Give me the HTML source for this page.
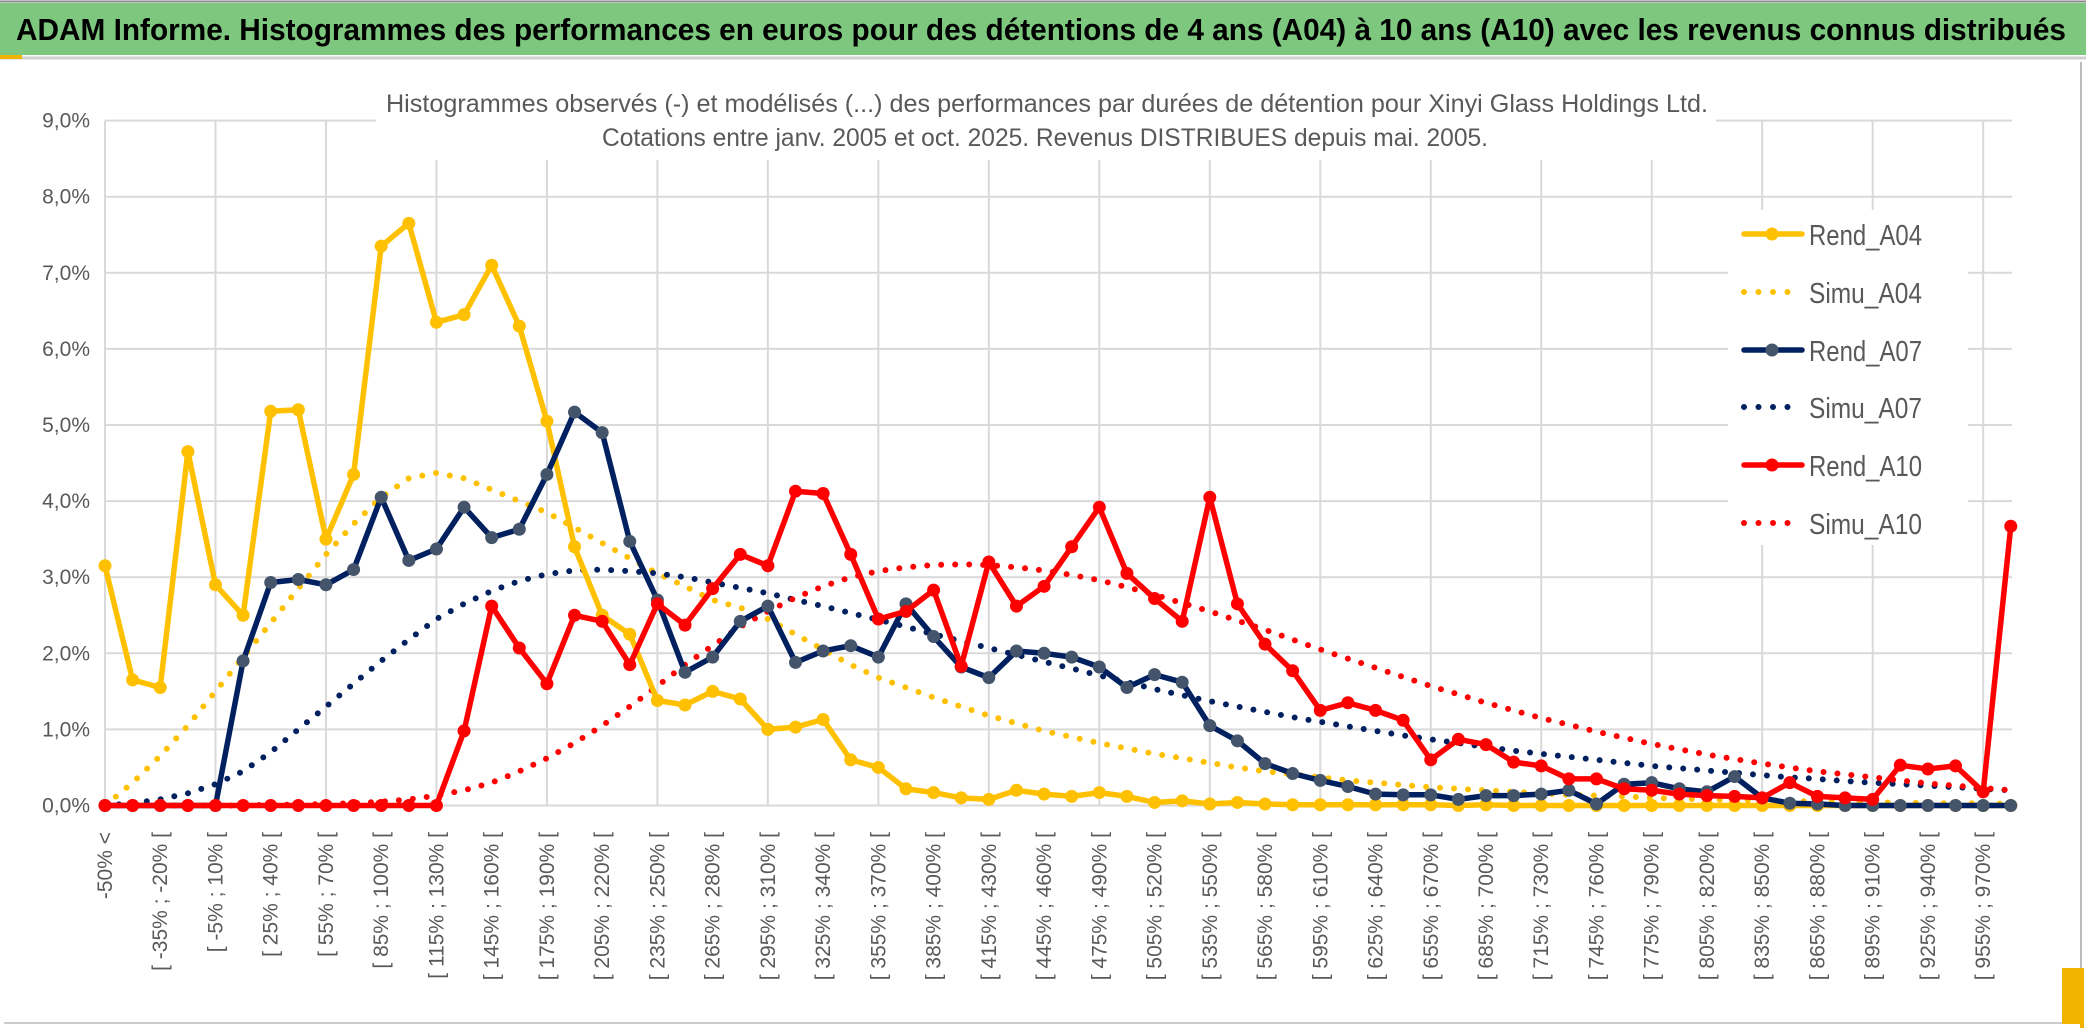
<!DOCTYPE html>
<html><head><meta charset="utf-8"><style>
html,body{margin:0;padding:0;background:#fff;}
svg{display:block;font-family:"Liberation Sans",sans-serif;}
</style></head><body>
<svg id="chart" width="2086" height="1033" viewBox="0 0 2086 1033" xmlns="http://www.w3.org/2000/svg">
<rect x="0" y="0" width="2086" height="1033" fill="#fff"/>
<rect x="0" y="3" width="2086" height="52" fill="#7DC87E"/>
<line x1="0" y1="1.5" x2="2086" y2="1.5" stroke="#888" stroke-width="2"/>
<line x1="0" y1="58" x2="2086" y2="58" stroke="#d0d0d0" stroke-width="3"/>
<rect x="0" y="55" width="22" height="4" fill="#F0B400"/>
<text x="16" y="40" font-size="31" font-weight="bold" fill="#000" textLength="2050" lengthAdjust="spacingAndGlyphs">ADAM Informe. Histogrammes des performances en euros pour des détentions de 4 ans (A04) à 10 ans (A10) avec les revenus connus distribués</text>
<rect x="2080" y="62" width="2" height="962" fill="#bbb"/>
<rect x="4" y="1022" width="2078" height="2" fill="#ccc"/>
<rect x="2062" y="968" width="20" height="56" fill="#F0B400"/>
<rect x="2080" y="968" width="4" height="60" fill="#F0B400"/>
<g id="grid"></g>
<rect x="376" y="80" width="1340" height="80" fill="#fff"/>
<text x="1047" y="112" text-anchor="middle" font-size="25" fill="#595959" textLength="1322" lengthAdjust="spacingAndGlyphs">Histogrammes observés (-) et modélisés (...) des performances par durées de détention pour Xinyi Glass Holdings Ltd.</text>
<text x="1045" y="146" text-anchor="middle" font-size="25" fill="#595959" textLength="886" lengthAdjust="spacingAndGlyphs">Cotations entre janv. 2005 et oct. 2025. Revenus DISTRIBUES depuis mai. 2005.</text>
<g id="yticks"></g>
<g id="xticks"></g>
<g id="series"></g>
<g id="legend"></g>
</svg>
<script>
const yTicks=["0,0%","1,0%","2,0%","3,0%","4,0%","5,0%","6,0%","7,0%","8,0%","9,0%"];
const yTickValues=[0,1,2,3,4,5,6,7,8,9];
const lowerBounds=[];
for(let i=1;i<70;i++){lowerBounds.push(-50+15*(i-1));}
const rendA04=[3.15,1.65,1.55,4.65,2.9,2.5,5.18,5.2,3.5,4.35,7.35,7.65,6.35,6.45,7.1,6.3,5.05,3.4,2.5,2.25,1.38,1.32,1.5,1.4,1.0,1.03,1.13,0.6,0.5,0.22,0.17,0.1,0.08,0.2,0.15,0.12,0.17,0.12,0.04,0.06,0.02,0.04,0.02,0.01,0.01,0.01,0.01,0.01,0.01,0,0.01,0,0,0,0,0,0,0,0,0,0,0,0,0,0,0,0,0,0,0];
const simuA04=[0.0,0.3,0.65,1.05,1.5,1.95,2.4,2.85,3.3,3.7,4.05,4.3,4.37,4.3,4.15,4.0,3.85,3.65,3.45,3.25,3.05,2.88,2.7,2.6,2.45,2.25,2.05,1.85,1.68,1.55,1.42,1.3,1.18,1.08,0.98,0.9,0.82,0.75,0.68,0.62,0.56,0.5,0.45,0.41,0.37,0.33,0.3,0.27,0.24,0.22,0.2,0.18,0.16,0.14,0.13,0.12,0.1,0.09,0.08,0.07,0.07,0.06,0.05,0.05,0.04,0.04,0.03,0.03,0.03,0.02];
const rendA07=[0,0,0,0,0,1.9,2.93,2.97,2.9,3.1,4.05,3.22,3.37,3.92,3.52,3.63,4.35,5.17,4.9,3.47,2.7,1.75,1.95,2.42,2.62,1.88,2.03,2.1,1.95,2.65,2.22,1.82,1.68,2.03,2.0,1.95,1.82,1.55,1.72,1.62,1.05,0.85,0.55,0.42,0.33,0.25,0.15,0.14,0.14,0.08,0.13,0.13,0.15,0.2,0.02,0.28,0.3,0.22,0.18,0.38,0.1,0.03,0.02,0,0,0,0,0,0,0];
const simuA07=[0,0.03,0.08,0.16,0.28,0.45,0.7,1.0,1.3,1.6,1.9,2.18,2.45,2.65,2.82,2.95,3.04,3.09,3.1,3.08,3.05,3.0,2.93,2.86,2.79,2.7,2.62,2.53,2.44,2.35,2.25,2.16,2.07,1.98,1.89,1.8,1.71,1.62,1.53,1.45,1.37,1.3,1.23,1.16,1.1,1.04,0.98,0.92,0.87,0.82,0.77,0.72,0.68,0.64,0.6,0.56,0.52,0.49,0.46,0.43,0.4,0.37,0.35,0.32,0.3,0.28,0.26,0.24,0.22,0.2];
const rendA10=[0,0,0,0,0,0,0,0,0,0,0,0,0,0.98,2.62,2.07,1.6,2.5,2.42,1.85,2.65,2.37,2.85,3.3,3.15,4.13,4.1,3.3,2.45,2.55,2.83,1.83,3.2,2.62,2.88,3.4,3.92,3.05,2.72,2.42,4.05,2.65,2.12,1.77,1.25,1.35,1.25,1.12,0.6,0.87,0.8,0.57,0.52,0.35,0.35,0.22,0.2,0.15,0.13,0.12,0.1,0.3,0.12,0.1,0.08,0.53,0.48,0.52,0.18,3.67];
const simuA10=[0,0,0,0,0,0,0.01,0.01,0.02,0.03,0.05,0.08,0.13,0.2,0.3,0.45,0.62,0.82,1.05,1.3,1.57,1.85,2.1,2.35,2.55,2.73,2.88,3.0,3.08,3.13,3.16,3.17,3.16,3.13,3.09,3.03,2.96,2.87,2.77,2.66,2.55,2.43,2.31,2.18,2.05,1.93,1.81,1.69,1.57,1.46,1.35,1.25,1.15,1.06,0.97,0.89,0.81,0.74,0.67,0.61,0.55,0.5,0.45,0.41,0.37,0.33,0.29,0.26,0.23,0.2];

const NS="http://www.w3.org/2000/svg";
const X0=105, DX=27.62, Y0=805.5, DY=76.1, XR=2012;
function xs(i){return X0+i*DX;}
function ys(v){return Y0-v*DY;}
function mk(tag,attrs,parent){const e=document.createElementNS(NS,tag);for(const k in attrs)e.setAttribute(k,attrs[k]);parent.appendChild(e);return e;}
const categories=["-50% <"];
lowerBounds.forEach(l=>categories.push("[ "+l+"% ; "+(l+15)+"% ["));

const grid=document.getElementById('grid');
yTickValues.forEach(v=>{
  const l=mk('line',{x1:X0,x2:XR,y1:ys(v),y2:ys(v),stroke:'#d9d9d9','stroke-width':2},grid);
  
  
});
for(let i=0;i<categories.length;i+=4){
  const l=mk('line',{x1:xs(i),x2:xs(i),y1:ys(9),y2:Y0,stroke:'#d9d9d9','stroke-width':2},grid);
  
  
}
const yt=document.getElementById('yticks');
yTicks.forEach((t,k)=>{
  const e=mk('text',{x:90,y:ys(yTickValues[k])+7,'text-anchor':'end','font-size':21,fill:'#595959'},yt);
  e.textContent=t;
  
  
});
const xt=document.getElementById('xticks');
for(let i=0;i<categories.length;i+=2){
  const x=xs(i)+7, y=832;
  const e=mk('text',{x:x,y:y,'text-anchor':'end','font-size':21,fill:'#595959',transform:'rotate(-90 '+x+' '+y+')'},xt);
  e.textContent=categories[i];
  
  
}
const sg=document.getElementById('series');
function pathOf(arr){return arr.map((v,i)=>(i?'L':'M')+xs(i).toFixed(1)+' '+ys(v).toFixed(1)).join(' ');}
function dotted(arr,color,name){
  const p=mk('path',{d:pathOf(arr),fill:'none',stroke:color,'stroke-width':6,'stroke-linecap':'round','stroke-dasharray':'0 14'},sg);
  
  
}
function solid(arr,color,mcolor,name){
  const p=mk('path',{d:pathOf(arr),fill:'none',stroke:color,'stroke-width':5.5,'stroke-linejoin':'round'},sg);
  
  
  arr.forEach((v,i)=>{
    const c=mk('circle',{cx:xs(i),cy:ys(v),r:6.5,fill:mcolor},sg);
    
    
  });
}
dotted(simuA04,'#FFC000','simu-a04-line');
dotted(simuA07,'#002060','simu-a07-line');
dotted(simuA10,'#FF0000','simu-a10-line');
solid(rendA04,'#FFC000','#FFC000','rend-a04-line');
solid(rendA07,'#002060','#44546A','rend-a07-line');
solid(rendA10,'#FF0000','#FF0000','rend-a10-line');

const lg=document.getElementById('legend');
const lb=mk('rect',{x:1728,y:210,width:240,height:335,fill:'#fff'},lg);


const legendNames=["Rend_A04","Simu_A04","Rend_A07","Simu_A07","Rend_A10","Simu_A10"];
const legendColors=["#FFC000","#FFC000","#002060","#002060","#FF0000","#FF0000"];
const legendMarkers=["#FFC000",null,"#44546A",null,"#FF0000",null];
const legendY=[234,292,350,407,465,523];
legendNames.forEach((n,k)=>{
  const y=legendY[k];
  if(legendMarkers[k]){
    const l=mk('line',{x1:1744,x2:1802,y1:y,y2:y,stroke:legendColors[k],'stroke-width':5.5,'stroke-linecap':'round'},lg);
    
    
    const c=mk('circle',{cx:1772,cy:y,r:6.5,fill:legendMarkers[k]},lg);
    
    
  } else {
    const l=mk('line',{x1:1744,x2:1802,y1:y,y2:y,stroke:legendColors[k],'stroke-width':6,'stroke-linecap':'round','stroke-dasharray':'0 14.5'},lg);
    
    
  }
  const t=mk('text',{x:1809,y:y+11,'font-size':29,fill:'#595959',textLength:113,lengthAdjust:'spacingAndGlyphs'},lg);
  t.textContent=n;
  
  
});
</script>
</body></html>
